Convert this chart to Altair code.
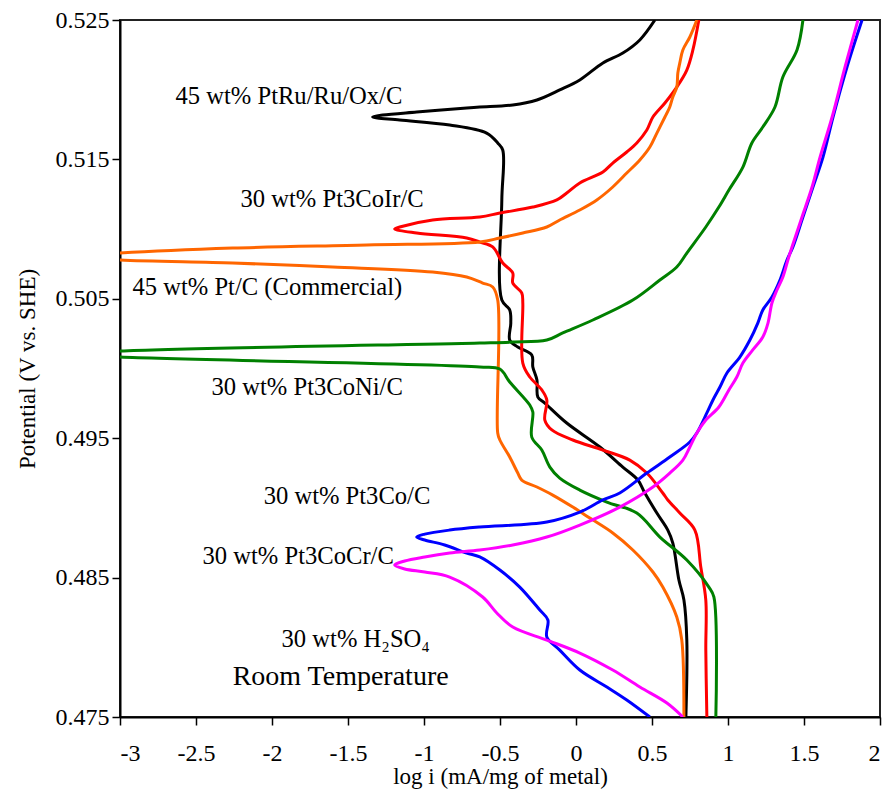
import altair as alt
import pandas as pd

# ---------------- data ----------------
series_names = [
    "45 wt% PtRu/Ru/Ox/C",
    "30 wt% Pt3CoIr/C",
    "45 wt% Pt/C (Commercial)",
    "30 wt% Pt3CoNi/C",
    "30 wt% Pt3Co/C",
    "30 wt% Pt3CoCr/C",
]
series_colors = ["#000000", "#FF0000", "#FF6600", "#008000", "#0000FF", "#FF00FF"]

# log i (mA/mg of metal) and potential (V vs. SHE), traced from top to bottom
ptru_logi = [0.519, 0.420, 0.308, 0.177, 0.025, -0.107, -0.257, -0.416, -0.633, -0.719,
             -1.048, -1.272, -1.338, -1.160, -0.831, -0.588, -0.515, -0.482, -0.488, -0.488,
             -0.436, -0.429, -0.436, -0.383, -0.291, -0.284, -0.257, -0.251, -0.205, -0.061,
             0.157, 0.308, 0.407, 0.453, 0.532, 0.604, 0.637, 0.677, 0.710, 0.729, 0.723]
ptru_pot = [0.52500, 0.52357, 0.52263, 0.52192, 0.52070, 0.51998, 0.51926, 0.51890, 0.51876, 0.51869,
            0.51840, 0.51818, 0.51804, 0.51783, 0.51747, 0.51689, 0.51618, 0.51567, 0.51209, 0.50491,
            0.50420, 0.50326, 0.50204, 0.50154, 0.50097, 0.50011, 0.49917, 0.49795, 0.49752, 0.49609,
            0.49437, 0.49293, 0.49200, 0.49107, 0.48963, 0.48841, 0.48748, 0.48483, 0.48339, 0.48052, 0.47500]

coir_logi = [0.808, 0.769, 0.729, 0.663, 0.585, 0.506, 0.466, 0.400, 0.334, 0.242,
             0.177, 0.025, -0.061, -0.126, -0.284, -0.501, -0.633, -0.943, -1.160, -1.193,
             -1.048, -0.719, -0.633, -0.548, -0.482, -0.416, -0.416, -0.357, -0.350, -0.350,
             -0.304, -0.225, -0.192, -0.205, -0.159, -0.021, 0.177, 0.354, 0.466, 0.571,
             0.604, 0.683, 0.782, 0.821, 0.854, 0.854, 0.861]
coir_pot = [0.52500, 0.52285, 0.52141, 0.52019, 0.51905, 0.51804, 0.51711, 0.51618, 0.51553, 0.51474,
            0.51410, 0.51331, 0.51259, 0.51209, 0.51158, 0.51115, 0.51087, 0.51065, 0.51015, 0.51001,
            0.50972, 0.50936, 0.50907, 0.50872, 0.50757, 0.50685, 0.50613, 0.50542, 0.50470, 0.50039,
            0.49939, 0.49846, 0.49774, 0.49630, 0.49559, 0.49487, 0.49415, 0.49343, 0.49250, 0.49107,
            0.49057, 0.48963, 0.48841, 0.48576, 0.48339, 0.47980, 0.47500]

# the sharp minimum runs past the left edge of the axis (x < -3) and is cut off there
ptc_logi = [0.795, 0.749, 0.703, 0.683, 0.670, 0.663, 0.637, 0.617, 0.585, 0.532,
            0.486, 0.420, 0.334, 0.242, 0.137, 0.025, -0.107, -0.192, -0.350, -0.501,
            -0.633, -1.377, -2.259, -3.0, -3.3, -3.0, -2.259, -1.601, -0.943, -0.719,
            -0.614, -0.548, -0.515, -0.515, -0.501, -0.436, -0.383, -0.357, -0.257, -0.153,
            -0.021, 0.091, 0.242, 0.374, 0.506, 0.571, 0.663, 0.696, 0.710]
ptc_pot = [0.52500, 0.52378, 0.52285, 0.52192, 0.52120, 0.52019, 0.51948, 0.51876, 0.51804, 0.51689,
           0.51589, 0.51496, 0.51402, 0.51302, 0.51209, 0.51137, 0.51065, 0.51015, 0.50972, 0.50936,
           0.50907, 0.50886, 0.50864, 0.50828, 0.50803, 0.50778, 0.50757, 0.50728, 0.50692, 0.50656,
           0.50613, 0.50585, 0.50491, 0.49537, 0.49487, 0.49365, 0.49250, 0.49200, 0.49150, 0.49092,
           0.49006, 0.48927, 0.48820, 0.48698, 0.48540, 0.48432, 0.48217, 0.48052, 0.47500]

coni_logi = [1.493, 1.454, 1.361, 1.309, 1.229, 1.157, 1.098, 1.006, 0.940, 0.854,
             0.729, 0.663, 0.552, 0.374, 0.111, -0.087, -0.192, -0.416, -0.633, -3.0, -3.3,
             -3.0, -0.633, -0.501, -0.436, -0.304, -0.284, -0.291, -0.225, -0.172, -0.107,
             0.025, 0.203, 0.400, 0.552, 0.729, 0.874, 0.907, 0.920]
coni_pot = [0.52500, 0.52285, 0.52091, 0.51876, 0.51732, 0.51618, 0.51445, 0.51280, 0.51158, 0.51015,
            0.50828, 0.50728, 0.50635, 0.50491, 0.50348, 0.50255, 0.50204, 0.50190, 0.50183, 0.50125, 0.50103,
            0.50082, 0.50011, 0.49996, 0.49903, 0.49738, 0.49688, 0.49508, 0.49415, 0.49293, 0.49214,
            0.49128, 0.49042, 0.48963, 0.48791, 0.48626, 0.48432, 0.48361, 0.47500]

co_logi = [1.882, 1.783, 1.691, 1.625, 1.559, 1.493, 1.427, 1.388, 1.342, 1.289,
           1.229, 1.196, 1.144, 1.078, 0.993, 0.947, 0.901, 0.861, 0.795, 0.749,
           0.617, 0.466, 0.288, 0.177, 0.025, -0.192, -0.633, -0.831, -0.995, -1.048,
           -0.995, -0.864, -0.719, -0.633, -0.501, -0.370, -0.238, -0.185, -0.192, -0.107,
           0.025, 0.203, 0.334, 0.486]
co_pot = [0.52500, 0.52163, 0.51804, 0.51517, 0.51302, 0.51087, 0.50872, 0.50778, 0.50635, 0.50513,
          0.50420, 0.50326, 0.50204, 0.50082, 0.49968, 0.49867, 0.49774, 0.49681, 0.49537, 0.49473,
          0.49365, 0.49250, 0.49107, 0.49057, 0.48970, 0.48899, 0.48863, 0.48841, 0.48812, 0.48791,
          0.48770, 0.48734, 0.48676, 0.48648, 0.48554, 0.48432, 0.48267, 0.48196, 0.48074, 0.47980,
          0.47837, 0.47715, 0.47622, 0.47500]

cocr_logi = [1.855, 1.770, 1.685, 1.606, 1.553, 1.487, 1.421, 1.394, 1.361, 1.322,
             1.289, 1.263, 1.229, 1.163, 1.098, 1.058, 1.006, 0.940, 0.854, 0.795,
             0.749, 0.703, 0.617, 0.506, 0.288, 0.025, -0.192, -0.416, -0.633, -0.831,
             -0.995, -1.127, -1.193, -1.127, -0.995, -0.831, -0.614, -0.521, -0.416, -0.192,
             0.025, 0.242, 0.420, 0.598, 0.703]
cocr_pot = [0.52500, 0.52163, 0.51804, 0.51517, 0.51302, 0.51087, 0.50872, 0.50778, 0.50656, 0.50563,
            0.50470, 0.50326, 0.50226, 0.50133, 0.50039, 0.49939, 0.49846, 0.49724, 0.49630, 0.49537,
            0.49437, 0.49343, 0.49250, 0.49150, 0.49006, 0.48877, 0.48791, 0.48734, 0.48698, 0.48676,
            0.48648, 0.48619, 0.48590, 0.48562, 0.48540, 0.48504, 0.48361, 0.48246, 0.48145, 0.48052,
            0.47959, 0.47837, 0.47715, 0.47600, 0.47500]

x_ticks = [-3, -2.5, -2, -1.5, -1, -0.5, 0, 0.5, 1, 1.5, 2]
y_ticks = [0.475, 0.485, 0.495, 0.505, 0.515, 0.525]

# curve labels (left-anchored, data coordinates)
note_texts = [
    "45 wt% PtRu/Ru/Ox/C",
    "30 wt% Pt3CoIr/C",
    "45 wt% Pt/C (Commercial)",
    "30 wt% Pt3CoNi/C",
    "30 wt% Pt3Co/C",
    "30 wt% Pt3CoCr/C",
]
note_x = [-2.635, -2.207, -2.918, -2.398, -2.055, -2.457]
note_y = [0.51948, 0.51209, 0.50578, 0.49860, 0.49078, 0.48648]

# test conditions (left-anchored, data coordinates)
cond_texts = ["30 wt% H\u2082SO\u2084", "Room Temperature"]
cond_x = [-1.937, -2.259]
cond_y = [0.48052, 0.47787]

# ---------------- build tables ----------------
all_logi = [ptru_logi, coir_logi, ptc_logi, coni_logi, co_logi, cocr_logi]
all_pot = [ptru_pot, coir_pot, ptc_pot, coni_pot, co_pot, cocr_pot]
rows = []
for name, xs, ys in zip(series_names, all_logi, all_pot):
    for i, (xv, yv) in enumerate(zip(xs, ys)):
        rows.append({"series": name, "logi": xv, "pot": yv, "ord": i})
df = pd.DataFrame(rows)
notes = pd.DataFrame({"text": note_texts, "x": note_x, "y": note_y})
conds = pd.DataFrame({"text": cond_texts, "x": cond_x, "y": cond_y})

FONT = "Liberation Serif"

x_scale = alt.Scale(domain=[-3, 2], nice=False, zero=False)
y_scale = alt.Scale(domain=[0.475, 0.525], nice=False, zero=False)

lines = alt.Chart(df).mark_line(strokeWidth=3, interpolate="catmull-rom", clip=True).encode(
    x=alt.X("logi:Q", scale=x_scale,
            axis=alt.Axis(values=x_ticks, title="log i (mA/mg of metal)",
                          labelExpr="'' + datum.value", labelPadding=16,
                          titlePadding=0)),
    y=alt.Y("pot:Q", scale=y_scale,
            axis=alt.Axis(values=y_ticks, format=".3f", title="Potential (V vs. SHE)",
                          labelPadding=3, titlePadding=16)),
    color=alt.Color("series:N", scale=alt.Scale(domain=series_names, range=series_colors), legend=None),
    detail="series:N",
    order="ord:Q",
)


def text_layer(frame, size):
    return alt.Chart(frame).mark_text(align="left", baseline="middle", font=FONT,
                                      fontSize=size, color="black").encode(
        x=alt.X("x:Q", scale=x_scale),
        y=alt.Y("y:Q", scale=y_scale),
        text="text:N",
    )


labels = text_layer(notes, 24.6)
cond_top = text_layer(conds.iloc[[0]], 24.6)
cond_bottom = text_layer(conds.iloc[[1]], 28)

chart = (lines + labels + cond_top + cond_bottom).properties(
    width=760, height=697,
    autosize=alt.AutoSizeParams(type="none"),
    padding={"left": 120, "top": 20, "right": 8, "bottom": 74},
    background="white",
).configure_view(
    stroke="#222222", strokeWidth=2,
).configure_axis(
    grid=False, domainColor="black", domainWidth=2,
    tickColor="black", tickWidth=1.5, tickSize=8,
    labelFont=FONT, labelFontSize=24, labelColor="black",
    titleFont=FONT, titleFontSize=23, titleFontWeight="normal", titleColor="black",
)

chart.save("out.html", embed_options={"renderer": "svg", "actions": False})
